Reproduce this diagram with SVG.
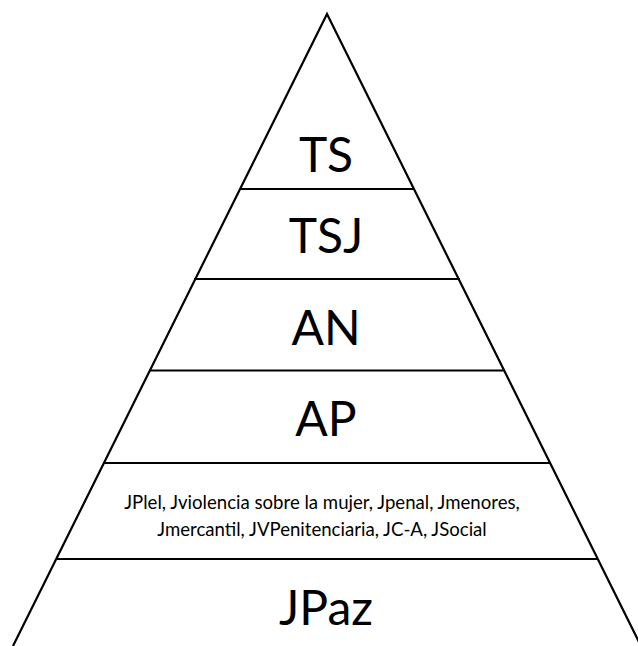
<svg xmlns="http://www.w3.org/2000/svg" width="638" height="646" viewBox="0 0 638 646">
<style>
.ln{stroke:#000;stroke-width:2.2;fill:none}
.big{font-family:Lato,"Open Sans","Liberation Sans",sans-serif;font-size:48px;fill:#000;text-anchor:middle}
.sm{font-family:Lato,"Open Sans","Liberation Sans",sans-serif;font-size:18.6px;fill:#000;text-anchor:middle}
</style>
<rect width="638" height="646" fill="#fff"/>
<g id="connectors">
<polyline class="ln" points="13,646 327,14 641,646"/>
<line class="ln" x1="240" y1="189" x2="414" y2="189"/>
<line class="ln" x1="194" y1="279" x2="460" y2="279"/>
<line class="ln" x1="149" y1="370.5" x2="505" y2="370.5"/>
<line class="ln" x1="103" y1="463" x2="551" y2="463"/>
<line class="ln" x1="56" y1="559" x2="598" y2="559"/>
</g>
<g id="TS"><text class="big" x="326" y="172">TS</text></g>
<g id="TSJ"><text class="big" x="326" y="253">TSJ</text></g>
<g id="AN"><text class="big" x="326" y="345">AN</text></g>
<g id="AP"><text class="big" x="326" y="436">AP</text></g>
<g id="J"><text class="sm" x="322" y="509">JPlel, Jviolencia sobre la mujer, Jpenal, Jmenores,</text><text class="sm" x="322" y="536">Jmercantil, JVPenitenciaria, JC-A, JSocial</text></g>
<g id="JPaz"><text class="big" x="326" y="625">JPaz</text></g>
</svg>
